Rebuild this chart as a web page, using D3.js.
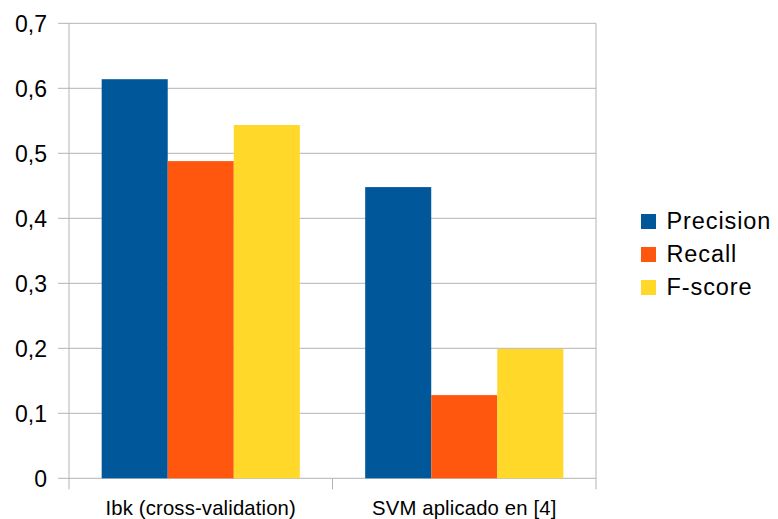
<!DOCTYPE html>
<html>
<head>
<meta charset="utf-8">
<script src="https://cdn.jsdelivr.net/npm/d3@7"></script>
<style>
  html, body { margin: 0; padding: 0; background: #fff; }
  svg { display: block; font-family: "Liberation Sans", Arial, sans-serif; }
</style>
</head>
<body>
<svg id="chart" width="778" height="519"></svg>
<script>
// Categories, series and values
const categories = ["Ibk (cross-validation)", "SVM aplicado en [4]"];
const seriesNames = ["Precision", "Recall", "F-score"];
const precision = [0.614, 0.448];
const recall = [0.488, 0.128];
const fscore = [0.5435, 0.199];
const seriesValues = [precision, recall, fscore];
const seriesColors = ["#00589a", "#ff570e", "#ffd82a"];
const yTicks = [0, 0.1, 0.2, 0.3, 0.4, 0.5, 0.6, 0.7];

const svg = d3.select("#chart");
const plotLeft = 69, plotRight = 596, plotTop = 23.3, plotBottom = 478.3;

const x0 = d3.scaleBand().domain(categories).range([plotLeft, plotRight]).paddingInner(0).paddingOuter(0);
const y = d3.scaleLinear().domain([0, 0.7]).range([plotBottom, plotTop]);
const bandInset = 0.124; // fraction of each band left empty at either side
const x1 = d3.scaleBand().domain(seriesNames)
  .range([x0.bandwidth() * bandInset, x0.bandwidth() * (1 - bandInset)]);

const gridColor = "#b3b3b3";

// Horizontal grid lines (extend left past the axis as tick marks)
svg.append("g").selectAll("line").data(yTicks).join("line")
  .attr("x1", plotLeft - 11).attr("x2", plotRight)
  .attr("y1", d => y(d)).attr("y2", d => y(d))
  .attr("stroke", gridColor).attr("stroke-width", 1);

// Vertical axis line
svg.append("line").attr("x1", plotLeft).attr("x2", plotLeft)
  .attr("y1", plotTop).attr("y2", plotBottom + 11)
  .attr("stroke", gridColor);
// Right border of the plot area
svg.append("line").attr("x1", plotRight).attr("x2", plotRight)
  .attr("y1", plotTop).attr("y2", plotBottom + 11)
  .attr("stroke", gridColor);

// Category separators below the axis
svg.append("g").selectAll("line").data(categories.slice(1)).join("line")
  .attr("x1", d => x0(d)).attr("x2", d => x0(d))
  .attr("y1", plotBottom).attr("y2", plotBottom + 11)
  .attr("stroke", gridColor);

// Bars
const groups = svg.append("g").selectAll("g").data(categories).join("g")
  .attr("transform", d => `translate(${x0(d)},0)`);
groups.selectAll("rect")
  .data((c, i) => seriesNames.map((s, j) => ({ s, v: seriesValues[j][i], color: seriesColors[j] })))
  .join("rect")
  .attr("x", d => x1(d.s))
  .attr("width", x1.bandwidth())
  .attr("y", d => y(d.v))
  .attr("height", d => plotBottom - y(d.v))
  .attr("fill", d => d.color);

// Y tick labels
const fmt = d => d === 0 ? "0" : d3.format(".1f")(d).replace(".", ",");
svg.append("g").selectAll("text").data(yTicks).join("text")
  .attr("x", 47).attr("y", d => y(d) + 8.5)
  .attr("text-anchor", "end")
  .attr("font-size", 23).attr("fill", "#000")
  .text(fmt);

// Category labels
svg.append("g").selectAll("text").data(categories).join("text")
  .attr("x", d => x0(d) + x0.bandwidth() / 2)
  .attr("y", 514.5)
  .attr("text-anchor", "middle")
  .attr("font-size", 20.3).attr("letter-spacing", 0.15).attr("fill", "#000")
  .text(d => d);

// Legend
const legend = svg.append("g").selectAll("g").data(seriesNames).join("g")
  .attr("transform", (d, i) => `translate(641,${214 + i * 33})`);
legend.append("rect").attr("width", 15).attr("height", 15)
  .attr("fill", (d, i) => seriesColors[i]);
legend.append("text").attr("x", 25.5).attr("y", 15.3)
  .attr("font-size", 23.5).attr("letter-spacing", 0.9).attr("fill", "#000")
  .text(d => d);
</script>
</body>
</html>
